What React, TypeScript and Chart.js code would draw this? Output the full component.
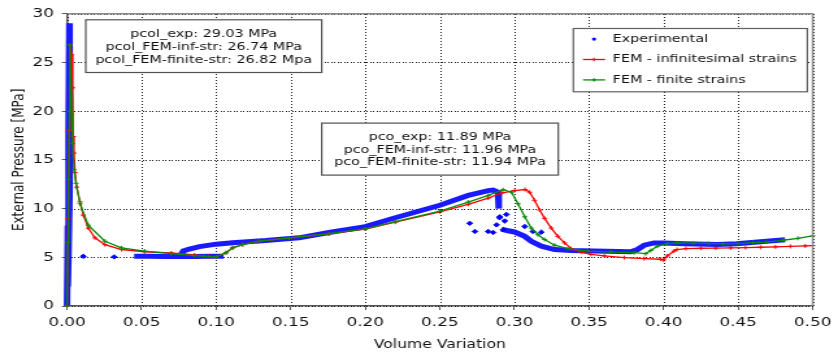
import React, { useEffect, useRef } from 'react';
import { Chart, registerables } from 'chart.js';

Chart.register(...registerables);

// ---------- data ----------
const X_TICK_LABELS = ['0.00', '0.05', '0.10', '0.15', '0.20', '0.25', '0.30', '0.35', '0.40', '0.45', '0.50'];
const Y_TICK_LABELS = ['0', '5', '10', '15', '20', '25', '30'];

const LEGEND_LABELS = ['Experimental', 'FEM - infinitesimal strains', 'FEM - finite strains'];
const NOTE_COLLAPSE = ['pcol_exp: 29.03 MPa', 'pcol_FEM-inf-str: 26.74 MPa', 'pcol_FEM-finite-str: 26.82 Mpa'];
const NOTE_PCO = ['pco_exp: 11.89 MPa', 'pco_FEM-inf-str: 11.96 MPa', 'pco_FEM-finite-str: 11.94 MPa'];

// Experimental: dense band (null = gap between separate branches)
const EXP_BAND_X = [
  0.0, 0.0005, 0.001, 0.0015, 0.002, 0.0015, 0.001, 0.0005, 0.0005,
  0.045, 0.055, 0.065, 0.075, 0.085, 0.095, 0.105, 0.105,
  0.0766, 0.078, 0.082, 0.0888, 0.1, 0.111, 0.1333, 0.1555, 0.1756, 0.2, 0.2201, 0.25, 0.269, 0.2824, 0.2857, 0.289, 0.2895, 0.2895,
  0.2913, 0.2957, 0.3, 0.3069, 0.3113, 0.318, 0.3269, 0.338, 0.3536, 0.378, 0.3825, 0.387, 0.3936, 0.4, 0.4137, 0.436, 0.449, 0.469, 0.4815,
];
const EXP_BAND_Y = [
  0, 8, 18, 29.03, 22, 12, 5.5, 2, null,
  5.12, 5.1, 5.08, 5.1, 5.08, 5.1, 5.12, null,
  5.3, 5.65, 5.85, 6.1, 6.35, 6.5, 6.72, 7.0, 7.55, 8.15, 9.06, 10.34, 11.35, 11.85, 11.9, 11.68, 10.0, null,
  7.9, 7.72, 7.6, 7.15, 6.65, 6.14, 5.8, 5.7, 5.64, 5.56, 5.8, 6.24, 6.48, 6.48, 6.4, 6.32, 6.4, 6.65, 6.8,
];
// Experimental: isolated scattered points
const EXP_PTS_X = [0.0109, 0.0316, 0.27, 0.2735, 0.2824, 0.2857, 0.288, 0.2902, 0.2924, 0.2935, 0.2946, 0.29, 0.3069, 0.3124, 0.318];
const EXP_PTS_Y = [5.1, 5.04, 8.49, 7.65, 7.65, 7.55, 8.33, 9.16, 7.82, 8.73, 9.4, 9.06, 8.16, 7.65, 7.58];

// FEM - infinitesimal strains
const FEM_INF_X = [
  0, 0.0008, 0.0015, 0.002, 0.0031, 0.0038, 0.0042, 0.0047, 0.0053, 0.0065, 0.0087, 0.0109, 0.0142, 0.0187, 0.0254, 0.0365,
  0.052, 0.0699, 0.0854, 0.095, 0.1, 0.1066, 0.111, 0.1177, 0.1288, 0.1489, 0.1756, 0.2, 0.2201, 0.25, 0.269, 0.2824, 0.2913,
  0.3, 0.3071, 0.3102, 0.3135, 0.3169, 0.3202, 0.3247, 0.3291, 0.3336, 0.338, 0.3447, 0.3513, 0.3603, 0.3736, 0.387, 0.398,
  0.4, 0.4025, 0.407, 0.409, 0.415, 0.425, 0.435, 0.445, 0.455, 0.465, 0.475, 0.485, 0.495, 0.5,
];
const FEM_INF_Y = [
  0, 9, 18, 26.74, 25.8, 22.4, 17.4, 15.7, 13.7, 12.2, 10.7, 9.33, 8.0, 7.0, 6.3, 5.8,
  5.57, 5.44, 5.24, 5.1, 5.04, 5.47, 5.97, 6.3, 6.65, 6.98, 7.4, 7.9, 8.6, 9.67, 10.44, 11.08, 11.6,
  11.85, 11.96, 11.68, 10.85, 9.85, 9.0, 8.0, 7.15, 6.48, 5.9, 5.54, 5.3, 5.14, 4.97, 4.87, 4.8,
  4.72, 5.14, 5.64, 5.8, 5.9, 5.93, 5.95, 5.97, 6.0, 6.03, 6.07, 6.12, 6.17, 6.2,
];

// FEM - finite strains
const FEM_FIN_X = [
  0, 0.0005, 0.001, 0.0015, 0.002, 0.0031, 0.0038, 0.0047, 0.006, 0.0087, 0.0142, 0.0254, 0.0365, 0.052, 0.0699, 0.0854, 0.092,
  0.1, 0.1066, 0.111, 0.1177, 0.1288, 0.1489, 0.1756, 0.2, 0.2201, 0.25, 0.269, 0.2824, 0.2924, 0.298, 0.3024, 0.3069, 0.3113,
  0.3158, 0.3202, 0.3269, 0.3358, 0.3491, 0.3647, 0.3803, 0.388, 0.3914, 0.3959, 0.4025, 0.409, 0.42, 0.43, 0.44, 0.45, 0.46,
  0.469, 0.48, 0.49, 0.5,
];
const FEM_FIN_Y = [
  0, 6.5, 13, 20, 26.82, 19.7, 16.7, 14.0, 12.6, 10.5, 8.3, 6.65, 5.97, 5.64, 5.37, 5.17, 5.1,
  5.04, 5.47, 5.97, 6.3, 6.65, 6.98, 7.42, 7.92, 8.66, 9.74, 10.67, 11.35, 11.94, 11.68, 10.5, 9.16, 8.0,
  7.32, 6.82, 6.24, 5.88, 5.64, 5.54, 5.47, 5.37, 5.7, 6.14, 6.41, 6.48, 6.45, 6.42, 6.38, 6.4, 6.5,
  6.55, 6.75, 6.95, 7.2,
];

// ---------- styles ----------
const FONT = '"DejaVu Sans", Verdana, sans-serif';
const BLUE = '#0000ff';
const RED = '#ff0000';
const GREEN = '#0a8a0a';
const CANVAS_W = 645; // drawn narrower, then stretched to 838px wide like the reference
const CANVAS_H = 361;

const zip = (xs: number[], ys: (number | null)[]) => xs.map((x, i) => ({ x, y: ys[i] }));

function drawBox(ctx: CanvasRenderingContext2D, x: number, y: number, w: number, h: number, border: string) {
  ctx.fillStyle = '#ffffff';
  ctx.fillRect(x, y, w, h);
  ctx.strokeStyle = border;
  ctx.lineWidth = 1.2;
  ctx.setLineDash([]);
  ctx.strokeRect(x, y, w, h);
}

function drawCross(ctx: CanvasRenderingContext2D, cx: number, cy: number, r: number, color: string) {
  ctx.strokeStyle = color;
  ctx.lineWidth = 1;
  ctx.beginPath();
  ctx.moveTo(cx - r, cy);
  ctx.lineTo(cx + r, cy);
  ctx.moveTo(cx, cy - r);
  ctx.lineTo(cx, cy + r);
  ctx.stroke();
}

// dotted grid made of 1px dots, drawn under the data
const gridPlugin = {
  id: 'dottedGrid',
  beforeDatasetsDraw(chart: any) {
    const { ctx, chartArea: a, scales } = chart;
    ctx.save();
    ctx.globalCompositeOperation = 'source-over';
    ctx.globalAlpha = 1;
    ctx.fillStyle = '#1a1a1a';
    const top = Math.round(a.top);
    const bottom = Math.round(a.bottom);
    const left = Math.round(a.left);
    const right = Math.round(a.right);
    X_TICK_LABELS.map(parseFloat).forEach((v) => {
      const px = Math.round(scales.x.getPixelForValue(v));
      for (let y = bottom - 1; y >= top; y -= 3) ctx.fillRect(px, y, 1, 1);
    });
    Y_TICK_LABELS.map(parseFloat).forEach((v) => {
      const py = Math.round(scales.y.getPixelForValue(v));
      for (let x = left; x <= right; x += 2.5) ctx.fillRect(Math.round(x), py, 1, 1);
    });
    ctx.restore();
  },
};

const overlayPlugin = {
  id: 'overlay',
  afterDraw(chart: any) {
    const { ctx, chartArea: a } = chart;
    ctx.save();
    ctx.globalCompositeOperation = 'source-over';
    // top/right frame
    ctx.strokeStyle = '#8a8a8a';
    ctx.lineWidth = 1.5;
    ctx.setLineDash([]);
    ctx.beginPath();
    ctx.moveTo(a.left, a.top);
    ctx.lineTo(a.right, a.top);
    ctx.lineTo(a.right, a.bottom);
    ctx.stroke();

    ctx.font = `11px ${FONT}`;
    ctx.textBaseline = 'middle';

    // collapse note
    {
      const bx = a.left + 14.4, by = a.top + 6, bw = 181.6, bh = 52.7;
      drawBox(ctx, bx, by, bw, bh, '#505050');
      ctx.fillStyle = '#111';
      ctx.textAlign = 'center';
      NOTE_COLLAPSE.forEach((t, i) => ctx.fillText(t, bx + bw / 2, by + 14 + i * 13));
    }
    // pco note
    {
      const bx = a.left + 196, by = a.top + 109.3, bw = 182.1, bh = 52;
      drawBox(ctx, bx, by, bw, bh, '#505050');
      ctx.fillStyle = '#111';
      ctx.textAlign = 'center';
      NOTE_PCO.forEach((t, i) => ctx.fillText(t, bx + bw / 2, by + 14.4 + i * 12.3));
    }
    // legend
    {
      const bx = a.left + 389.7, by = a.top + 14.7, bw = 180.1, bh = 63.3;
      drawBox(ctx, bx, by, bw, bh, '#606060');
      const colors = [BLUE, RED, GREEN];
      LEGEND_LABELS.forEach((t, i) => {
        const ry = by + 10.6 + i * 20.4;
        const mx = bx + 15.9;
        if (i === 0) {
          ctx.fillStyle = BLUE;
          ctx.beginPath();
          ctx.arc(mx, ry, 1.6, 0, Math.PI * 2);
          ctx.fill();
        } else {
          ctx.strokeStyle = colors[i];
          ctx.lineWidth = 1.3;
          ctx.beginPath();
          ctx.moveTo(bx + 7.4, ry);
          ctx.lineTo(bx + 24.4, ry);
          ctx.stroke();
          drawCross(ctx, mx, ry, 1.8, colors[i]);
        }
        ctx.fillStyle = '#111';
        ctx.textAlign = 'left';
        ctx.fillText(t, bx + 30.3, ry);
      });
    }
    ctx.restore();
  },
};

export default function App() {
  const ref = useRef<HTMLCanvasElement | null>(null);

  useEffect(() => {
    if (!ref.current) return;
    const gridCommon = {
      drawOnChartArea: false,
      drawTicks: true,
      tickLength: 4,
      tickColor: '#555555',
      tickWidth: 1,
    };
    const chart = new Chart(ref.current, {
      type: 'scatter',
      data: {
        datasets: [
          {
            label: LEGEND_LABELS[2],
            data: zip(FEM_FIN_X, FEM_FIN_Y),
            showLine: true,
            borderColor: GREEN,
            backgroundColor: GREEN,
            borderWidth: 1.3,
            pointStyle: 'cross',
            pointRadius: 2,
            pointBorderWidth: 1,
            pointBorderColor: GREEN,
            order: 1,
            clip: false,
          },
          {
            label: LEGEND_LABELS[1],
            data: zip(FEM_INF_X, FEM_INF_Y),
            showLine: true,
            borderColor: RED,
            backgroundColor: RED,
            borderWidth: 1.3,
            pointStyle: 'cross',
            pointRadius: 2,
            pointBorderWidth: 1,
            pointBorderColor: RED,
            order: 2,
            clip: false,
          },
          {
            label: LEGEND_LABELS[0],
            data: zip(EXP_PTS_X, EXP_PTS_Y),
            showLine: false,
            backgroundColor: BLUE,
            borderColor: BLUE,
            pointStyle: 'rectRot',
            pointRadius: 2.2,
            order: 3,
            clip: false,
          },
          {
            label: LEGEND_LABELS[0] + ' band',
            data: zip(EXP_BAND_X, EXP_BAND_Y),
            showLine: true,
            spanGaps: false,
            borderColor: '#1a1aff',
            backgroundColor: '#1a1aff',
            borderWidth: 5,
            pointRadius: 0,
            order: 4,
            clip: false,
          },
        ],
      },
      options: {
        responsive: false,
        animation: false,
        devicePixelRatio: 1,
        layout: { padding: { top: 8, right: 16.9, bottom: 0, left: 0 } },
        plugins: {
          legend: { display: false },
          tooltip: { enabled: false },
        },
        scales: {
          x: {
            type: 'linear',
            min: 0,
            max: 0.5,
            afterFit: (s: any) => {
              s.height = 55;
            },
            ticks: {
              stepSize: 0.05,
              autoSkip: false,
              maxRotation: 0,
              color: '#111',
              padding: 5,
              font: { family: FONT, size: 13 },
              callback: (_v: any, i: number) => X_TICK_LABELS[i] ?? '',
            },
            grid: gridCommon,
            border: { display: true, color: '#555555', width: 1.5 },
            title: {
              display: true,
              text: 'Volume Variation',
              color: '#111',
              font: { family: FONT, size: 12 },
              padding: { top: 0, bottom: 9 },
            },
          },
          y: {
            type: 'linear',
            min: 0,
            max: 30,
            afterFit: (s: any) => {
              s.width = 51.6;
            },
            ticks: {
              stepSize: 5,
              color: '#111',
              padding: 6,
              font: { family: FONT, size: 13 },
              callback: (_v: any, i: number) => Y_TICK_LABELS[i] ?? '',
            },
            grid: gridCommon,
            border: { display: true, color: '#555555', width: 1.5 },
            title: {
              display: true,
              text: 'External Pressure [MPa]',
              color: '#111',
              font: { family: FONT, size: 12 },
              padding: { top: 8, bottom: 0 },
            },
          },
        },
      },
      plugins: [gridPlugin, overlayPlugin],
    } as any);
    return () => chart.destroy();
  }, []);

  return (
    <div style={{ position: 'absolute', left: 0, top: 0, width: 838, height: 361 }}>
      <canvas
        ref={ref}
        width={CANVAS_W}
        height={CANVAS_H}
        style={{ width: '838px', height: '361px', display: 'block' }}
      />
    </div>
  );
}
